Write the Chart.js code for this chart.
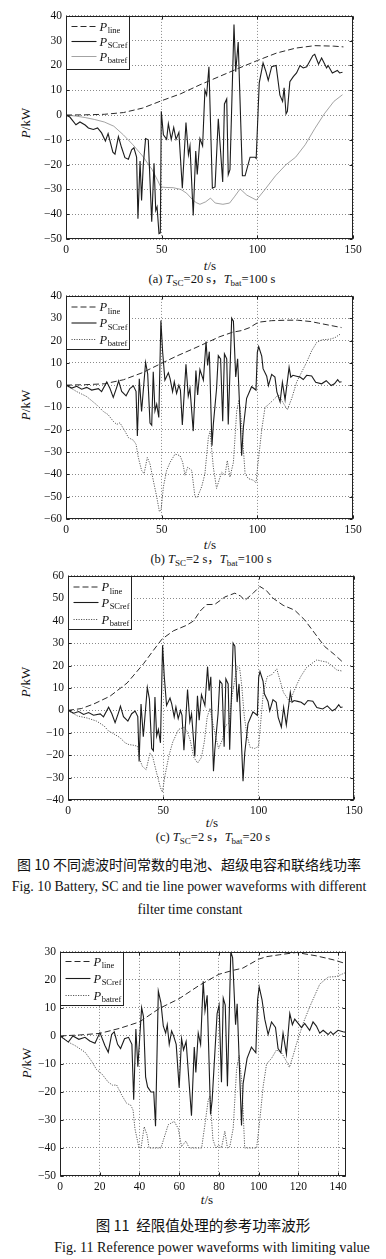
<!DOCTYPE html>
<html>
<head>
<meta charset="utf-8">
<script src="https://cdn.jsdelivr.net/npm/chart.js@4.4.1/dist/chart.umd.min.js"></script>
<style>
body { margin: 0; background: #fff; }
#page { position: relative; width: 386px; height: 1259px; overflow: hidden;
        font-family: "Liberation Serif", "Times New Roman", serif; color: #111; }
#page canvas { position: absolute; }
.t { position: absolute; white-space: nowrap; transform: translate(-50%, -50%); line-height: 1; }
.yt { transform: translate(-50%, -50%) rotate(-90deg); }
.cjk { font-family: "Noto Sans CJK SC", sans-serif; }
sub { font-size: 0.72em; vertical-align: -0.25em; line-height: 0; }
</style>
</head>
<body>
<div id="page">
  <!-- axis titles -->
  <div class="t yt" style="left:25px;top:123px;font-size:13px"><i>P</i>/kW</div>
  <div class="t yt" style="left:25px;top:405px;font-size:13px"><i>P</i>/kW</div>
  <div class="t yt" style="left:25px;top:682px;font-size:13px"><i>P</i>/kW</div>
  <div class="t yt" style="left:26px;top:1063px;font-size:13px"><i>P</i>/kW</div>
  <div class="t" style="left:210px;top:265px;font-size:13px"><i>t</i>/s</div>
  <div class="t" style="left:210px;top:544px;font-size:13px"><i>t</i>/s</div>
  <div class="t" style="left:212px;top:822px;font-size:13px"><i>t</i>/s</div>
  <div class="t" style="left:207px;top:1199px;font-size:13px"><i>t</i>/s</div>

  <!-- sub captions -->
  <div class="t" style="left:212px;top:279px;font-size:12.5px">(a) <i>T</i><sub>SC</sub>=20 s<span class="cjk">，</span><i>T</i><sub>bat</sub>=100 s</div>
  <div class="t" style="left:211px;top:559px;font-size:12.5px">(b) <i>T</i><sub>SC</sub>=2 s<span class="cjk">，</span><i>T</i><sub>bat</sub>=100 s</div>
  <div class="t" style="left:213px;top:837px;font-size:12.5px">(c) <i>T</i><sub>SC</sub>=2 s<span class="cjk">，</span><i>T</i><sub>bat</sub>=20 s</div>

  <!-- figure captions -->
  <div class="t cjk" style="left:189px;top:864px;font-size:14px">图 10 不同滤波时间常数的电池、超级电容和联络线功率</div>
  <div class="t" style="left:189px;top:887px;font-size:13.9px">Fig. 10 Battery, SC and tie line power waveforms with different</div>
  <div class="t" style="left:190px;top:910px;font-size:13.9px">filter time constant</div>
  <div class="t cjk" style="left:203px;top:1225px;font-size:14.5px">图 11&nbsp; 经限值处理的参考功率波形</div>
  <div class="t" style="left:212px;top:1247px;font-size:14.1px">Fig. 11 Reference power waveforms with limiting value</div>
</div>

<script>
// ── Data: (a) T_SC=20 s, T_bat=100 s ─────────────────────────
const tLineA = [0, 10, 20, 30, 40, 50, 60, 70, 80, 90, 100, 110, 120, 130, 140, 145];
const pLineA = [0, 0.1, 0.3, 1, 2.8, 5.8, 8.6, 12.2, 15.5, 18.8, 22, 25, 27, 28, 27.8, 27.5];

const tScA = [
  0, 2, 5.2, 7.3, 10, 11.7, 14.3, 16.5, 18.6, 20.6,
  22, 24.5, 25.6, 27.4, 29, 30.8, 32.6, 34.3, 35.5, 36.9,
  37.6, 38.7, 39.5, 40.4, 41.6, 43, 44.8, 46, 46.9, 47.6,
  48.6, 49.3, 49.8, 50.9, 52.6, 53.5, 55, 56.3, 57.5, 59,
  60.8, 62.7, 64, 64.8, 66.5, 67.8, 68.6, 70, 71.4, 72.6,
  73.5, 74.7, 76.5, 77.9, 79.6, 81.9, 82.8, 84, 84.8, 85.7,
  87.8, 88.7, 90, 92.2, 93.6, 96.2, 98.8, 99.4, 101, 103,
  104.5, 105.7, 107.5, 109.8, 111.8, 113.2, 114, 115, 115.7, 117,
  118.8, 120.5, 122.3, 124, 125.8, 129, 130, 132, 133.6, 136.2,
  137, 139.2, 140.5, 141.8, 143, 144.5];
const pScA = [
  0, -0.8, -3.9, -2.8, -4, -5.2, -5.8, -5.2, -7.2, -10.5,
  -7.5, -15, -15.8, -8.7, -13, -17.2, -17.8, -14, -13.2, -17,
  -41.8, -18.5, -34.5, -20, -9.5, -10, -43, -19.5, -38.5, -37,
  -47.8, -47.5, 1.5, -8, -9.8, -3.5, -9.8, -5, -9.8, -7,
  -29.5, -3, -16, -12.5, -40.5, -14.5, -24, -9.5, -12.5, 10,
  8, 19.5, -29.5, -29, -1.5, -27, 4.5, 6.5, -24, -22,
  36.5, 17.5, 29.5, -24.5, -24.5, -17, -17, -17.5, 13, 21,
  17.5, 14, 19.5, 20, 8, 5.5, 11, 0.5, 1.5, 13.5,
  15.5, 17, 20, 19, 19.5, 24, 24.5, 20.5, 23, 19,
  20, 17, 17.5, 18, 17, 17.3];

const tBatA = [0, 5, 10, 15, 20, 25, 30, 35, 40, 45, 48, 49.5, 52, 56, 60, 63, 66, 68, 70,
  73, 75.5, 78, 82, 85.5, 88, 91, 94.5, 99.5, 104, 109.5, 115, 120, 125, 130, 135, 140, 144.5];
const pBatA = [0, -0.4, -1, -1.8, -2.8, -4.5, -8, -12, -16.5, -22, -26.5, -29, -29.2, -29.3, -30, -31.5, -34, -35.3, -36,
  -35, -33.5, -35.5, -36, -35.5, -33, -29.8, -32.3, -34.3, -30, -24.5, -20, -17, -12, -5.5, 0.5, 5.5, 8.2];

// ── Data: SC reference with T_SC=2 s (same in (b) and (c)) ───
const tScFast = [
  0, 3, 5.6, 8.2, 10.8, 13.4, 16.9, 18.6, 21.3, 23,
  24.7, 26.5, 27.5, 29.1, 31.4, 33.4, 35.2, 36.6, 37.3, 38.3,
  39.5, 41.6, 42.7, 43.9, 44.8, 45.6, 46.5, 47.4, 48.5, 49.6,
  50.5, 51.7, 53.5, 54.4, 55.7, 56.6, 57.8, 59, 59.8, 60.8,
  62.7, 63.9, 64.8, 66.5, 67.9, 68.8, 70, 71.8, 73.2, 74,
  74.9, 76.3, 77, 78.7, 79.6, 80.8, 81.9, 82.8, 84, 84.8,
  86.6, 87.5, 88.7, 89.7, 91.8, 92.7, 94.4, 97, 99.3, 100,
  100.7, 102.3, 103, 104.9, 105.8, 107.5, 109.2, 110.2, 111.9, 113.1,
  114.5, 115.3, 116.6, 117.5, 118.6, 120.5, 122.3, 124, 125.8, 128.4,
  130.5, 133.6, 136, 138.6, 140.3, 142, 143, 144];
const pScFast = [
  0, -1.3, -0.5, -1.8, -1, -2.2, -1.6, -2.9, 1.4, -1.5,
  -5.5, -1, 1.9, -2.8, -4.8, -1.5, -0.3, -2.8, -22.8, 2.8,
  -11.8, 10.2, 5, -17, -18, 6, -11.5, -8.5, -14.5, 29,
  15, 2.2, 5.5, 2.9, -2.9, 1.5, -3.7, 0, -2.2, -17.8,
  9.3, -5, -1.5, -20.6, 6.5, -4.4, 7, 2.2, 19.5, 8.8,
  15, -27.2, -17.6, -1.5, 13.2, 11.8, -16.2, 14, 11.8, -17.6,
  30, 28.7, 3.7, 11.8, -31.6, -19, -5.9, -0.7, -2.2, 14.7,
  17.3, 13, 7.4, 4, -0.2, 4.8, 3.6, -3, -7.5, 1.3,
  -6.5, -1, 8, 3.6, 4.4, 4, 3.6, 2.5, 4.4, 4.1,
  1.3, 0.6, 2, -0.2, 0.6, 2.5, 1.3, 1.5];

// ── Data: (b) T_SC=2 s, T_bat=100 s ──────────────────────────
const tLineB = [0, 10, 20, 30, 40, 49, 58, 66.5, 73.5, 80,
  87, 92, 96, 100.5, 107.5, 115, 121, 128, 132, 138, 144];
const pLineB = [0, 0.2, 0.6, 2.4, 5.6, 9.4, 13.1, 16.3, 19, 21.6,
  23.7, 24.5, 25.8, 28.2, 28.9, 29.1, 29.1, 28.5, 27.8, 26.8, 25.8];

const tBatB = [
  0, 5.6, 10.8, 16, 19.5, 22, 24.7, 26.5, 28.2, 30.8,
  32.6, 35.2, 36.6, 37.8, 39.5, 40.8, 42.5, 43.9, 45.6, 47.4,
  48.8, 49.7, 50.9, 52.6, 54.4, 57, 59.6, 61, 62.2, 63.6,
  65.7, 67.4, 68.6, 70.9, 72.6, 74.4, 75.3, 77, 78.7, 80,
  81.4, 83.1, 84.3, 85.7, 87.5, 89.2, 90.4, 91.8, 93.6, 95.3,
  97.9, 99.3, 100.5, 102.3, 104, 105.7, 108.4, 111, 113.6, 115.7,
  118, 120.6, 123.2, 125.8, 128.4, 131, 133.6, 138, 140.6, 143.2];
const pBatB = [
  0, -2.9, -5.1, -8.8, -11.8, -13.2, -16.2, -17.6, -16.9, -20.6,
  -23.5, -24.7, -26.5, -32.4, -38.2, -39.7, -32.4, -35.3, -42.6, -50,
  -56.6, -55.9, -45.6, -38.2, -34.6, -30.9, -31.6, -34.6, -40.4, -36.8,
  -38.2, -50, -50.3, -45.6, -39.7, -23.5, -20.6, -36.8, -46.3, -42.6,
  -39, -40.4, -33.8, -41.2, -34.6, -11.8, -6.6, -17.6, -39.7, -41.9,
  -42.6, -43.8, -34, -20, -10, -8.8, -6.6, -4.4, -8.1, -11,
  -5.9, 1.5, 5.9, 10.3, 15.4, 19.1, 20.3, 20.6, 21.3, 22.8];

// ── Data: (c) T_SC=2 s, T_bat=20 s ───────────────────────────
const tLineC = [0, 7, 13.4, 22, 31, 39.6, 44.8, 49.3, 55.3, 62.3,
  66, 69.2, 72.7, 77, 82.3, 87.5, 90.5, 92.8, 97, 100.6,
  104, 107.6, 112.8, 118.9, 124.2, 129.4, 134.6, 139.9, 144];
const pLineC = [0, 0.8, 2.8, 6.3, 12.2, 20.8, 26.8, 31.8, 35.5, 38,
  40, 44.2, 47.2, 47.3, 50.6, 52.3, 51, 49.1, 52.2, 55.3,
  53.5, 50, 46.9, 44.7, 40.3, 34.4, 28.5, 24.8, 21.6];

const tBatC = [
  0, 5, 10, 15, 19, 21, 24, 27, 30, 32,
  34, 36.5, 37.5, 39, 41, 43, 44.5, 46.5, 48.5, 49.5,
  51, 53, 55, 58, 61, 62.5, 64, 66, 68, 70,
  71.5, 73, 74.5, 76, 77.5, 79, 81, 82.5, 84.5, 86,
  87.5, 89, 90, 91, 92.5, 94, 95.5, 98, 100, 101,
  102.5, 104.5, 107, 109.5, 111, 113, 115, 116.5, 118, 120,
  122, 125, 128, 130.5, 133, 136, 139, 141, 144];
const pBatC = [
  0, -2.5, -3.4, -4.8, -7, -9, -10.5, -12, -14.5, -15.3,
  -15.5, -16, -21.5, -25, -26.5, -19, -21, -28, -34.5, -36.5,
  -28.5, -20, -14, -8.5, -7.5, -9.5, -13, -21, -23.5, -21,
  -14, -3, 1, -6, -12, -17, -13, -7, -5.5, 6,
  14, 19.5, 19, 12, -3, -11.5, -16.5, -17, -16, -6,
  8.5, 15, 16, 18.5, 14, 8, 5.5, 3.5, 7.5, 11.5,
  15, 19, 21, 22.5, 22, 21.5, 19.5, 18, 17.5];

// ── Data: Fig. 11, limited battery reference ────────────────
const tLineD = [0, 10, 20, 30, 40, 50, 60, 70, 80, 87,
  92, 100, 104, 110.7, 119, 129, 137.5, 144];
const pLineD = [0, 0.35, 0.9, 2.7, 5, 9.8, 13.3, 18, 22, 23.4,
  24.2, 27.4, 28.3, 29, 29.8, 28.6, 27.2, 25.8];

const tScD = [
  0, 4.2, 6.5, 9.5, 12.6, 15, 17.6, 20.1, 22.6, 24.3,
  26, 27.3, 29, 30.5, 32.5, 34.5, 36.2, 37.1, 38.2, 39.2,
  41.1, 42, 43.1, 44.1, 45.8, 47.2, 48.1, 49.5, 50.8, 52,
  53.2, 54, 55, 56.2, 57.2, 58.5, 60, 61.2, 62.2, 63.5,
  66.2, 67.6, 68.4, 69.6, 70.8, 72.1, 73, 74.1, 75.8, 76.6,
  79.1, 80.1, 81.3, 82.2, 83.2, 84.3, 86, 86.9, 88.4, 89.2,
  91.4, 92.2, 94.2, 96.4, 98.6, 99.5, 100.3, 101.7, 103.1, 104.8,
  106.5, 108.5, 109.8, 111.2, 112.3, 114, 115.7, 117, 118.2, 119.9,
  121.6, 123.2, 125.7, 127.4, 129.1, 130.8, 132.5, 135, 136.3, 137.5,
  140, 142.5, 143.8];
const pScD = [
  0, -2.2, 0, -1.2, -0.5, -1.8, -2.6, 1.2, -3.4, -5.8,
  0.5, 1.5, -3, -4.5, -1, -0.5, -3, -22.8, 2.5, -11,
  10.1, 7, -14.6, -18.2, -20, -20, -32.2, 16, 11.9, 3.6,
  1, 4, -3, 1.8, 0, -3, -18.5, -1, -5, -2,
  -28.5, -4, -13, 1, -3, 19.5, 9, 14.5, -28, -23,
  8, 11, -16.5, 13.5, 11, -18, 30, 28, 4, 11.5,
  -32, -17, -8, -4, -6, 13, 17.5, 13, 6, 0.5,
  5, 3, -4.5, -6, 1, -6.5, 8, 4, 6, 4.5,
  3, 4.5, 2, 5, 3.5, 1, 2, 0.5, 1.5, 0.5,
  2, 1.5, 1.3];

const tBatD = [
  0, 5, 7.5, 12.6, 15.9, 18.4, 21, 24.3, 26.5, 28.5,
  31, 33.5, 35.7, 36.8, 37.7, 39.7, 40.8, 42.4, 43.9, 44.8,
  50.8, 54.5, 57.5, 59.5, 61.2, 63.4, 65, 71.3, 72.9, 74.6,
  75.5, 77, 78.5, 80, 81.3, 83, 84.3, 85.5, 87.2, 88.9,
  90.2, 91.6, 93, 99, 100.6, 102.3, 104, 106.5, 109, 111.5,
  114, 115.5, 117.4, 119, 122.4, 125.8, 130.8, 135, 139.2, 143.4];
const pBatD = [
  0, -2.5, -3.4, -5.8, -9, -12, -13.5, -16.5, -17.6, -17.5,
  -21, -24, -24.8, -26.5, -33, -39.7, -40, -32.4, -35.5, -40,
  -40, -31.7, -30.5, -33, -39.5, -37.5, -40, -40, -32, -23,
  -21.5, -37, -40, -39, -40, -34, -40, -39.5, -33, -12,
  -7, -17, -40, -40, -30, -18, -10, -8, -5, -6,
  -9, -11.2, -7, -3, 4.5, 10.5, 18.5, 21, 21.2, 22.5];

// ── Styles ───────────────────────────────────────────────────
const FONT = "'Liberation Serif', 'Times New Roman', serif";
const STYLE = {
    line:     { borderColor: '#2a2a2a', borderWidth: 1, borderDash: [6, 3] },
    sc:       { borderColor: '#1c1c1c', borderWidth: 1.1 },
    batSolid: { borderColor: '#8c8c8c', borderWidth: 0.8 },
    batDot:   { borderColor: '#5a5a5a', borderWidth: 1, borderDash: [1.2, 1.3] }
};
const SUBS = ['line', 'SCref', 'batref'];

// space around the plot area inside each canvas
const PL = 45, PT = 8, PR = 16, PB = 22;

const pts = (t, v) => t.map((x, i) => ({ x, y: v[i] }));
const minus = v => String(v).replace('-', '\u2212');

// frame, inward tick marks and the boxed legend
function framePlugin(series, rows) {
    return {
        id: 'frame',
        afterDraw(chart) {
            const { ctx, chartArea: a, scales: { x, y } } = chart;
            const L = Math.round(a.left) + 0.5, T = Math.round(a.top) + 0.5;
            const R = Math.round(a.right) - 0.5, B = Math.round(a.bottom) - 0.5;
            ctx.save();
            ctx.strokeStyle = '#222';
            ctx.lineWidth = 1;
            ctx.strokeRect(L, T, R - L, B - T);

            ctx.beginPath();
            x.ticks.forEach(tk => {
                const px = Math.round(x.getPixelForValue(tk.value)) + 0.5;
                ctx.moveTo(px, B); ctx.lineTo(px, B - 3);
                ctx.moveTo(px, T); ctx.lineTo(px, T + 3);
            });
            y.ticks.forEach(tk => {
                const py = Math.round(y.getPixelForValue(tk.value)) + 0.5;
                ctx.moveTo(L, py); ctx.lineTo(L + 3, py);
                ctx.moveTo(R, py); ctx.lineTo(R - 3, py);
            });
            ctx.stroke();

            // legend
            ctx.fillStyle = '#fff';
            ctx.fillRect(L, T, 63, 53);
            ctx.strokeRect(L, T, 63, 53);
            series.forEach((s, i) => {
                const st = STYLE[s.kind];
                const yy = T + rows[i];
                ctx.strokeStyle = st.borderColor;
                ctx.lineWidth = st.borderWidth;
                ctx.setLineDash(st.borderDash || []);
                ctx.beginPath();
                ctx.moveTo(L + 5, yy); ctx.lineTo(L + 30, yy);
                ctx.stroke();
                ctx.setLineDash([]);
                ctx.fillStyle = '#111';
                ctx.textBaseline = 'alphabetic';
                ctx.font = 'italic 12.5px ' + FONT;
                ctx.fillText('P', L + 33, yy + 4);
                const pw = ctx.measureText('P').width;
                ctx.font = '8.5px ' + FONT;
                ctx.fillText(SUBS[i], L + 33 + pw + 0.5, yy + 6.5);
            });
            ctx.restore();
        }
    };
}

function makeChart(rect, xr, yr, series, rows) {
    const cv = document.createElement('canvas');
    const w = rect.r - rect.l + PL + PR, h = rect.b - rect.t + PT + PB;
    cv.width = w; cv.height = h;
    cv.style.left = (rect.l - PL) + 'px';
    cv.style.top = (rect.t - PT) + 'px';
    cv.style.width = w + 'px';
    cv.style.height = h + 'px';
    document.getElementById('page').appendChild(cv);

    const tickFont = { family: FONT, size: 11.5 };
    const grid = { color: '#8a8a8a', lineWidth: 1, drawTicks: false };
    const border = { display: false, dash: [1, 2] };

    new Chart(cv, {
        type: 'line',
        data: {
            datasets: series.map(s => ({
                data: pts(s.t, s.v),
                ...STYLE[s.kind],
                pointRadius: 0,
                tension: 0,
                fill: false
            }))
        },
        options: {
            responsive: false,
            animation: false,
            events: [],
            layout: { padding: { left: 0, top: PT, right: PR, bottom: 0 } },
            plugins: { legend: { display: false }, tooltip: { enabled: false } },
            scales: {
                x: {
                    type: 'linear', min: 0, max: xr[0],
                    ticks: { stepSize: xr[1], includeBounds: false, color: '#111', font: tickFont,
                             padding: 4, maxRotation: 0, autoSkip: false },
                    grid, border,
                    afterFit(s) { s.height = PB; }
                },
                y: {
                    min: yr[0], max: yr[1],
                    ticks: { stepSize: 10, includeBounds: false, color: '#111', font: tickFont,
                             padding: 4, callback: minus, autoSkip: false },
                    grid, border,
                    afterFit(s) { s.width = PL; }
                }
            }
        },
        plugins: [framePlugin(series, rows)]
    });
}

makeChart({ l: 66, t: 13, r: 353, b: 239 }, [150, 50], [-50, 40], [
    { t: tLineA, v: pLineA, kind: 'line' },
    { t: tScA, v: pScA, kind: 'sc' },
    { t: tBatA, v: pBatA, kind: 'batSolid' }
], [10, 25, 40]);

makeChart({ l: 66, t: 293, r: 353, b: 519 }, [150, 50], [-60, 40], [
    { t: tLineB, v: pLineB, kind: 'line' },
    { t: tScFast, v: pScFast, kind: 'sc' },
    { t: tBatB, v: pBatB, kind: 'batDot' }
], [10.5, 26.5, 43]);

makeChart({ l: 68, t: 573, r: 354, b: 800 }, [150, 50], [-40, 60], [
    { t: tLineC, v: pLineC, kind: 'line' },
    { t: tScFast, v: pScFast, kind: 'sc' },
    { t: tBatC, v: pBatC, kind: 'batDot' }
], [10.5, 26, 43]);

makeChart({ l: 60, t: 949, r: 346, b: 1176 }, [144, 20], [-50, 30], [
    { t: tLineD, v: pLineD, kind: 'line' },
    { t: tScD, v: pScD, kind: 'sc' },
    { t: tBatD, v: pBatD, kind: 'batDot' }
], [9, 26, 43]);
</script>
</body>
</html>
